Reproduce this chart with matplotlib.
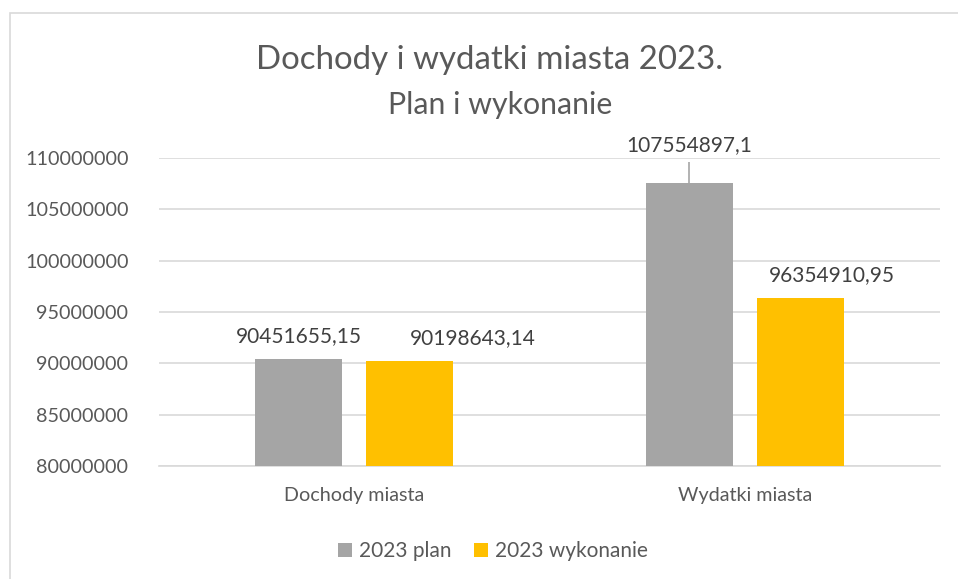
import matplotlib.pyplot as plt
from matplotlib.patches import Rectangle
import numpy as np

categories = ["Dochody miasta", "Wydatki miasta"]
series_names = ["2023 plan", "2023 wykonanie"]
plan_values = [90451655.15, 107554897.1]
done_values = [90198643.14, 96354910.95]
value_labels = [["90451655,15", "107554897,1"], ["90198643,14", "96354910,95"]]
y_ticks = [80000000, 85000000, 90000000, 95000000, 100000000, 105000000, 110000000]

COLORS = ["#A5A5A5", "#FFC000"]
TEXT = "#595959"
GRID = "#D9D9D9"

# label shifts (px) that Excel applied to dodge overlaps
label_dx = [[0, 0], [63, 32]]

plt.rcParams["font.family"] = ["Lato", "DejaVu Sans"]

fig = plt.figure(figsize=(9.58, 5.79), dpi=100)
W, H = 958, 579

# chart border (only left and top visible in the crop)
fig.patches.append(
    Rectangle((10 / W, -0.1), 1.2, 1.1 - 13 / H, transform=fig.transFigure,
              fill=False, edgecolor=GRID, linewidth=1.2)
)

ax = fig.add_axes([159 / W, 1 - 466 / H, (940 - 159) / W, (466 - 158) / H])
ax.set_ylim(y_ticks[0], y_ticks[-1])
ax.set_xlim(-0.5, 1.5)

x = np.arange(len(categories))
offset = 0.142
width = 0.223
px = 0.72  # points per pixel at dpi 100
top = y_ticks[-1]
span = y_ticks[-1] - y_ticks[0]
all_series = [plan_values, done_values]
for s, vals in enumerate(all_series):
    pos = x + (offset if s else -offset)
    ax.bar(pos, vals, width=width, color=COLORS[s], zorder=3, label=series_names[s])
    for i, v in enumerate(vals):
        if v > top - 0.12 * span:
            # label pushed above plot with a leader line
            ax.plot([pos[i], pos[i]], [v, top - 0.012 * span], color="#A6A6A6",
                    lw=1.2, zorder=4, solid_capstyle="butt")
            ax.annotate(value_labels[s][i], xy=(pos[i], top), xytext=(0, 13 * px),
                        textcoords="offset points", ha="center", va="center",
                        fontsize=15, color="#404040", annotation_clip=False)
        else:
            ax.annotate(value_labels[s][i], xy=(pos[i], v),
                        xytext=(label_dx[s][i] * px, 23 * px),
                        textcoords="offset points", ha="center", va="center",
                        fontsize=15, color="#404040")

ax.set_yticks(y_ticks)
ax.set_yticklabels([str(t) for t in y_ticks])
ax.set_xticks(x)
ax.set_xticklabels(categories)
ax.grid(axis="y", color=GRID, linewidth=1.2, zorder=0)
ax.tick_params(axis="both", length=0, labelsize=14.2, labelcolor=TEXT)
ax.tick_params(axis="y", pad=22)
ax.tick_params(axis="x", pad=15)
for side in ["top", "right", "left"]:
    ax.spines[side].set_visible(False)
ax.spines["bottom"].set_color(GRID)
ax.spines["bottom"].set_linewidth(1.2)

fig.text(490 / W, 1 - 60 / H, "Dochody i wydatki miasta 2023.", ha="center", va="center",
         fontsize=23.8, color=TEXT)
fig.text(500 / W, 1 - 105 / H, "Plan i wykonanie", ha="center", va="center",
         fontsize=21.8, color=TEXT)

fig.legend(loc="center", bbox_to_anchor=(493 / W, 1 - 551 / H), ncol=2, frameon=False,
           fontsize=15, labelcolor=TEXT, handlelength=0.65, handleheight=0.65,
           handletextpad=0.35, columnspacing=1.1)

fig.savefig("out.png", dpi=100)
